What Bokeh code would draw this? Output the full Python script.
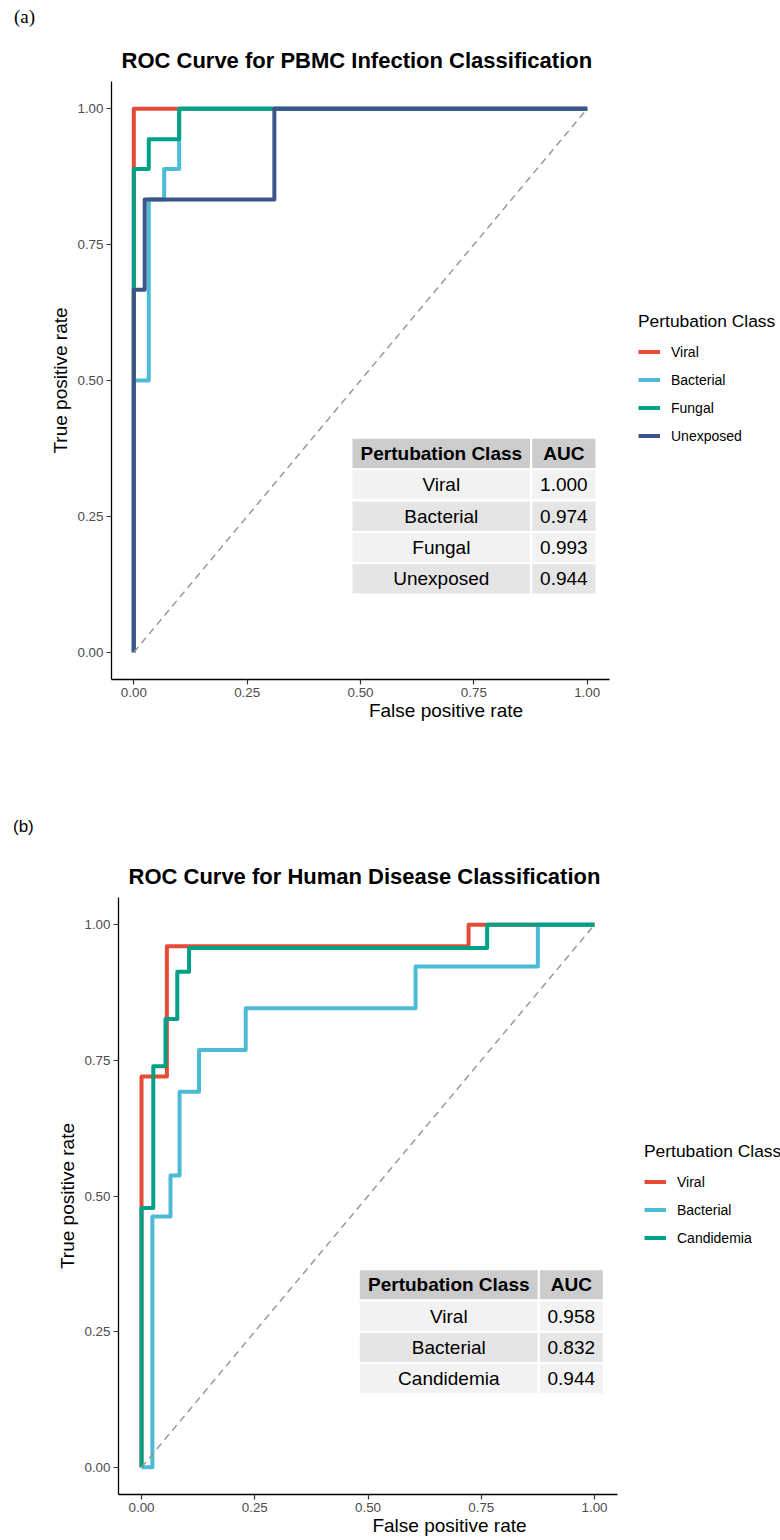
from bokeh.plotting import figure
from bokeh.models import (Range1d, FixedTicker, NumeralTickFormatter, Legend, LegendItem,
                          Title, Div)
from bokeh.layouts import column, row
from bokeh.core.properties import value
from bokeh.embed import file_html
from bokeh.resources import INLINE

# ---------------- data: panel (a) ----------------
a_tag = "(a)"
a_title = "ROC Curve for PBMC Infection Classification"
a_classes = ["Viral", "Bacterial", "Fungal", "Unexposed"]
a_colors = ["#E64B35", "#4DBBD5", "#00A087", "#3C5488"]
a_auc = ["1.000", "0.974", "0.993", "0.944"]
a_viral_fpr = [0.0, 0.0, 1.0]
a_viral_tpr = [0.0, 1.0, 1.0]
a_bacterial_fpr = [0.0, 0.0, 0.033, 0.033, 0.067, 0.067, 0.100, 0.100, 1.0]
a_bacterial_tpr = [0.0, 0.500, 0.500, 0.833, 0.833, 0.889, 0.889, 1.0, 1.0]
a_fungal_fpr = [0.0, 0.0, 0.033, 0.033, 0.100, 0.100, 1.0]
a_fungal_tpr = [0.0, 0.889, 0.889, 0.944, 0.944, 1.0, 1.0]
a_unexposed_fpr = [0.0, 0.0, 0.024, 0.024, 0.310, 0.310, 1.0]
a_unexposed_tpr = [0.0, 0.667, 0.667, 0.833, 0.833, 1.0, 1.0]

# ---------------- data: panel (b) ----------------
b_tag = "(b)"
b_title = "ROC Curve for Human Disease Classification"
b_classes = ["Viral", "Bacterial", "Candidemia"]
b_colors = ["#E64B35", "#4DBBD5", "#00A087"]
b_auc = ["0.958", "0.832", "0.944"]
b_viral_fpr = [0.0, 0.0, 0.056, 0.056, 0.722, 0.722, 1.0]
b_viral_tpr = [0.0, 0.720, 0.720, 0.960, 0.960, 1.0, 1.0]
b_bacterial_fpr = [0.0, 0.024, 0.024, 0.064, 0.064, 0.084, 0.084, 0.127, 0.127,
                   0.230, 0.230, 0.605, 0.605, 0.875, 0.875, 1.0]
b_bacterial_tpr = [0.0, 0.0, 0.462, 0.462, 0.538, 0.538, 0.692, 0.692, 0.769,
                   0.769, 0.846, 0.846, 0.923, 0.923, 1.0, 1.0]
b_candidemia_fpr = [0.0, 0.0, 0.026, 0.026, 0.053, 0.053, 0.079, 0.079, 0.105,
                    0.105, 0.763, 0.763, 1.0]
b_candidemia_tpr = [0.0, 0.478, 0.478, 0.739, 0.739, 0.826, 0.826, 0.913, 0.913,
                    0.957, 0.957, 1.0, 1.0]

chance_fpr = [0.0, 1.0]
chance_tpr = [0.0, 1.0]
axis_ticks = [0.0, 0.25, 0.5, 0.75, 1.0]
axis_bounds = (-0.05, 1.05)
table_header = ["Pertubation Class", "AUC"]
legend_title = "Pertubation Class"

FONT = "Liberation Sans"


def tag_div(text, font, size, pad_top, pad_left, height):
    html = ('<div style="margin:0;padding:%dpx 0 0 %dpx;font-family:\'%s\';'
            'font-size:%s;line-height:20px;color:#000;">%s</div>'
            % (pad_top, pad_left, font, size, text))
    return Div(text=html, width=780, height=height, margin=0)


def build(height, x_range, title, title_offset, classes, colors, curves, auc,
          borders, tbl, legend_loc):
    left, right, top, bottom = borders
    p = figure(width=780, height=height, output_backend="svg", toolbar_location=None,
               x_range=Range1d(*x_range), y_range=Range1d(-0.05, 1.05),
               min_border_left=left, min_border_right=right,
               min_border_top=top, min_border_bottom=bottom, title=None, margin=0)
    p.add_layout(Title(text=title, align="left", offset=title_offset, text_font=FONT,
                       text_font_size="22px", text_font_style="bold",
                       text_color="black", standoff=18), "above")

    p.grid.visible = False
    p.outline_line_color = None
    p.background_fill_color = "white"
    p.border_fill_color = "white"

    for ax in (p.xaxis, p.yaxis):
        ax.ticker = FixedTicker(ticks=axis_ticks)
        ax.formatter = NumeralTickFormatter(format="0.00")
        ax.axis_line_color = "black"
        ax.axis_line_width = 1.3
        ax.major_tick_line_color = "#333333"
        ax.major_tick_line_width = 1.2
        ax.major_tick_in = 0
        ax.major_tick_out = 5
        ax.minor_tick_line_color = None
        ax.major_label_text_font = FONT
        ax.major_label_text_font_size = "13.4px"
        ax.major_label_text_color = "#4D4D4D"
        ax.major_label_standoff = 3
        ax.axis_label_text_font = FONT
        ax.axis_label_text_font_size = "19px"
        ax.axis_label_text_font_style = "normal"
        ax.axis_label_text_color = "black"
    p.xaxis.bounds = axis_bounds
    p.xaxis.axis_label = "False positive rate"
    p.yaxis.axis_label = "True positive rate"
    p.xaxis.axis_label_standoff = 0
    p.yaxis.axis_label_standoff = 3

    items = []
    for name, col, (fx, ty) in zip(classes, colors, curves):
        r = p.line(fx, ty, line_color=col, line_width=4, line_join="round")
        items.append(LegendItem(label=value(name), renderers=[r]))

    p.line(chance_fpr, chance_tpr, line_color="#999999", line_width=1.5, line_dash="7 5")

    # AUC table
    x_left, x_div, x_right, y_top, row_h = tbl
    rows = [table_header] + [[c, a] for c, a in zip(classes, auc)]
    ql, qr, qt, qb, fills = [], [], [], [], []
    tx, ty_, tt = [], [], []
    hx, hy, ht = [], [], []
    for i, r_ in enumerate(rows):
        t = y_top - i * row_h
        b = t - row_h
        fill = "#CCCCCC" if i == 0 else ("#F2F2F2" if i % 2 == 1 else "#E5E5E5")
        for j, (l, rr) in enumerate([(x_left, x_div), (x_div, x_right)]):
            ql.append(l); qr.append(rr); qt.append(t); qb.append(b); fills.append(fill)
            if i == 0:
                hx.append((l + rr) / 2); hy.append((t + b) / 2); ht.append(r_[j])
            else:
                tx.append((l + rr) / 2); ty_.append((t + b) / 2); tt.append(r_[j])
    p.quad(left=ql, right=qr, top=qt, bottom=qb, fill_color=fills,
           line_color="white", line_width=2)
    p.text(x=hx, y=hy, text=ht, text_font=value(FONT), text_font_size=value("19px"),
           text_font_style="bold", text_align="center", text_baseline="middle",
           text_color="black")
    p.text(x=tx, y=ty_, text=tt, text_font=value(FONT), text_font_size=value("19px"),
           text_align="center", text_baseline="middle", text_color="black")

    legend = Legend(items=items, title=legend_title, location=legend_loc,
                    margin=0, padding=0, spacing=1, glyph_width=22, glyph_height=27,
                    label_height=27, label_standoff=11, title_standoff=6,
                    border_line_alpha=0, background_fill_alpha=0,
                    label_text_font=FONT, label_text_font_size="14px",
                    label_text_color="black",
                    title_text_font=FONT, title_text_font_size="17.4px",
                    title_text_font_style="normal", title_text_color="black")
    p.add_layout(legend, "center")
    return p


div_a = tag_div(a_tag, "Liberation Serif", "19px", 7, 14, 35)
pa = build(735, (-0.0492, 1.4263), a_title, 10, a_classes, a_colors,
           [(a_viral_fpr, a_viral_tpr), (a_bacterial_fpr, a_bacterial_tpr),
            (a_fungal_fpr, a_fungal_tpr), (a_unexposed_fpr, a_unexposed_tpr)],
           a_auc, (111, 0, 46, 91), (0.480, 0.8765, 1.0205, 0.3945, 0.05766),
           (527, 230))

div_b = tag_div(b_tag, FONT, "17px", 47, 13, 81)
pb = build(689, (-0.0508, 1.4106), b_title, 10, b_classes, b_colors,
           [(b_viral_fpr, b_viral_tpr), (b_bacterial_fpr, b_bacterial_tpr),
            (b_candidemia_fpr, b_candidemia_tpr)],
           b_auc, (118, 0, 46, 46), (0.4797, 0.877, 1.0205, 0.365, 0.05753),
           (526, 243))

layout = column(div_a, row(pa), div_b, row(pb))
open("out.html", "w").write(file_html(layout, INLINE))
